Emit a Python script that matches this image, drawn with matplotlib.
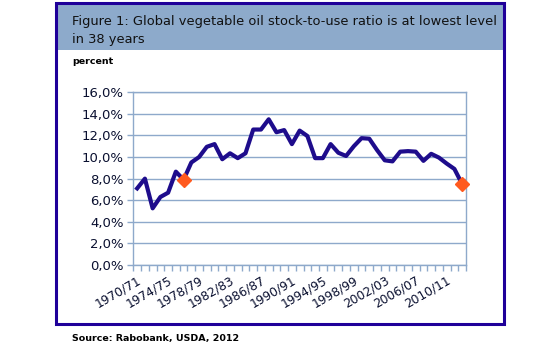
import matplotlib
matplotlib.use('Agg')
import matplotlib.pyplot as plt
from matplotlib.patches import Rectangle
import numpy as np

# Data (percent)
years = [f"{y}/{str(y + 1)[-2:]}" for y in range(1970, 2013)]
ratio = [7.1, 8.0, 5.25, 6.3, 6.7, 8.65, 7.9, 9.5, 10.0, 10.95,
         11.2, 9.8, 10.35, 9.9, 10.35, 12.55, 12.55, 13.5, 12.3, 12.5,
         11.2, 12.45, 11.95, 9.9, 9.9, 11.2, 10.4, 10.1, 11.0, 11.75,
         11.7, 10.65, 9.7, 9.6, 10.5, 10.55, 10.5, 9.65, 10.3, 9.95,
         9.4, 8.9, 7.5]
highlight = [6, 42]

grid_col = '#8EA9CB'
navy = '#1E0C8C'
border = '#1F0099'

fig = plt.figure(figsize=(5.51, 3.48), dpi=100)
W, H = 551, 348

# outer box and title band
fig.patches.append(Rectangle((56 / W, 1 - 50 / H), (504 - 56) / W, 47 / H,
                             transform=fig.transFigure, facecolor='#8DAACB',
                             edgecolor='none', zorder=0))
fig.patches.append(Rectangle((56 / W, 1 - 324 / H), (504 - 56) / W, (324 - 3) / H,
                             transform=fig.transFigure, facecolor='none',
                             edgecolor=border, linewidth=2.2, zorder=5))

fig.text(72 / W, 1 - 21 / H, 'Figure 1: Global vegetable oil stock-to-use ratio is at lowest level',
         fontsize=9.35, color='#111111', va='center', ha='left')
fig.text(72 / W, 1 - 40 / H, 'in 38 years', fontsize=9.35, color='#111111', va='center', ha='left')
fig.text(72 / W, 1 - 62 / H, 'percent', fontsize=6.8, color='black', va='center', ha='left',
         fontweight='bold')
fig.text(72 / W, 1 - 338 / H, 'Source: Rabobank, USDA, 2012', fontsize=6.8, color='black',
         va='center', ha='left', fontweight='bold')

ax = fig.add_axes([133.3 / W, 1 - 265 / H, (466 - 133.3) / W, (265 - 92.3) / H])
x = np.arange(len(years))
ax.plot(x, ratio, color=navy, linewidth=3, solid_joinstyle='round', zorder=3)
ax.plot([x[i] for i in highlight], [ratio[i] for i in highlight], linestyle='none',
        marker='D', markersize=7, color='#FF5A1F', markeredgecolor='#FF5A1F', zorder=4,
        clip_on=False)

ax.set_xlim(-0.5, len(years) - 0.5)
ax.set_ylim(0, 16)
ax.set_yticks(np.arange(0, 17, 2))
ax.set_yticklabels([f"{v:.1f}%".replace('.', ',') for v in np.arange(0, 17, 2)],
                   fontsize=9.5, color='#0A1030')
ax.grid(axis='y', color=grid_col, linewidth=1)
ax.set_axisbelow(True)

ax.set_xticks(x[::4])
ax.set_xticklabels(years[::4], rotation=30, ha='right', rotation_mode='anchor',
                   fontsize=8.8, color='#0A1030')
ax.set_xticks(np.arange(-0.5, len(years)), minor=True)
ax.tick_params(axis='x', which='major', length=0, pad=6)
ax.tick_params(axis='x', which='minor', length=4, color=grid_col, width=1)
ax.tick_params(axis='y', length=4, color=grid_col, width=1, pad=3)

for s in ax.spines.values():
    s.set_color(grid_col)
    s.set_linewidth(1)

fig.savefig('out.png', dpi=100)
